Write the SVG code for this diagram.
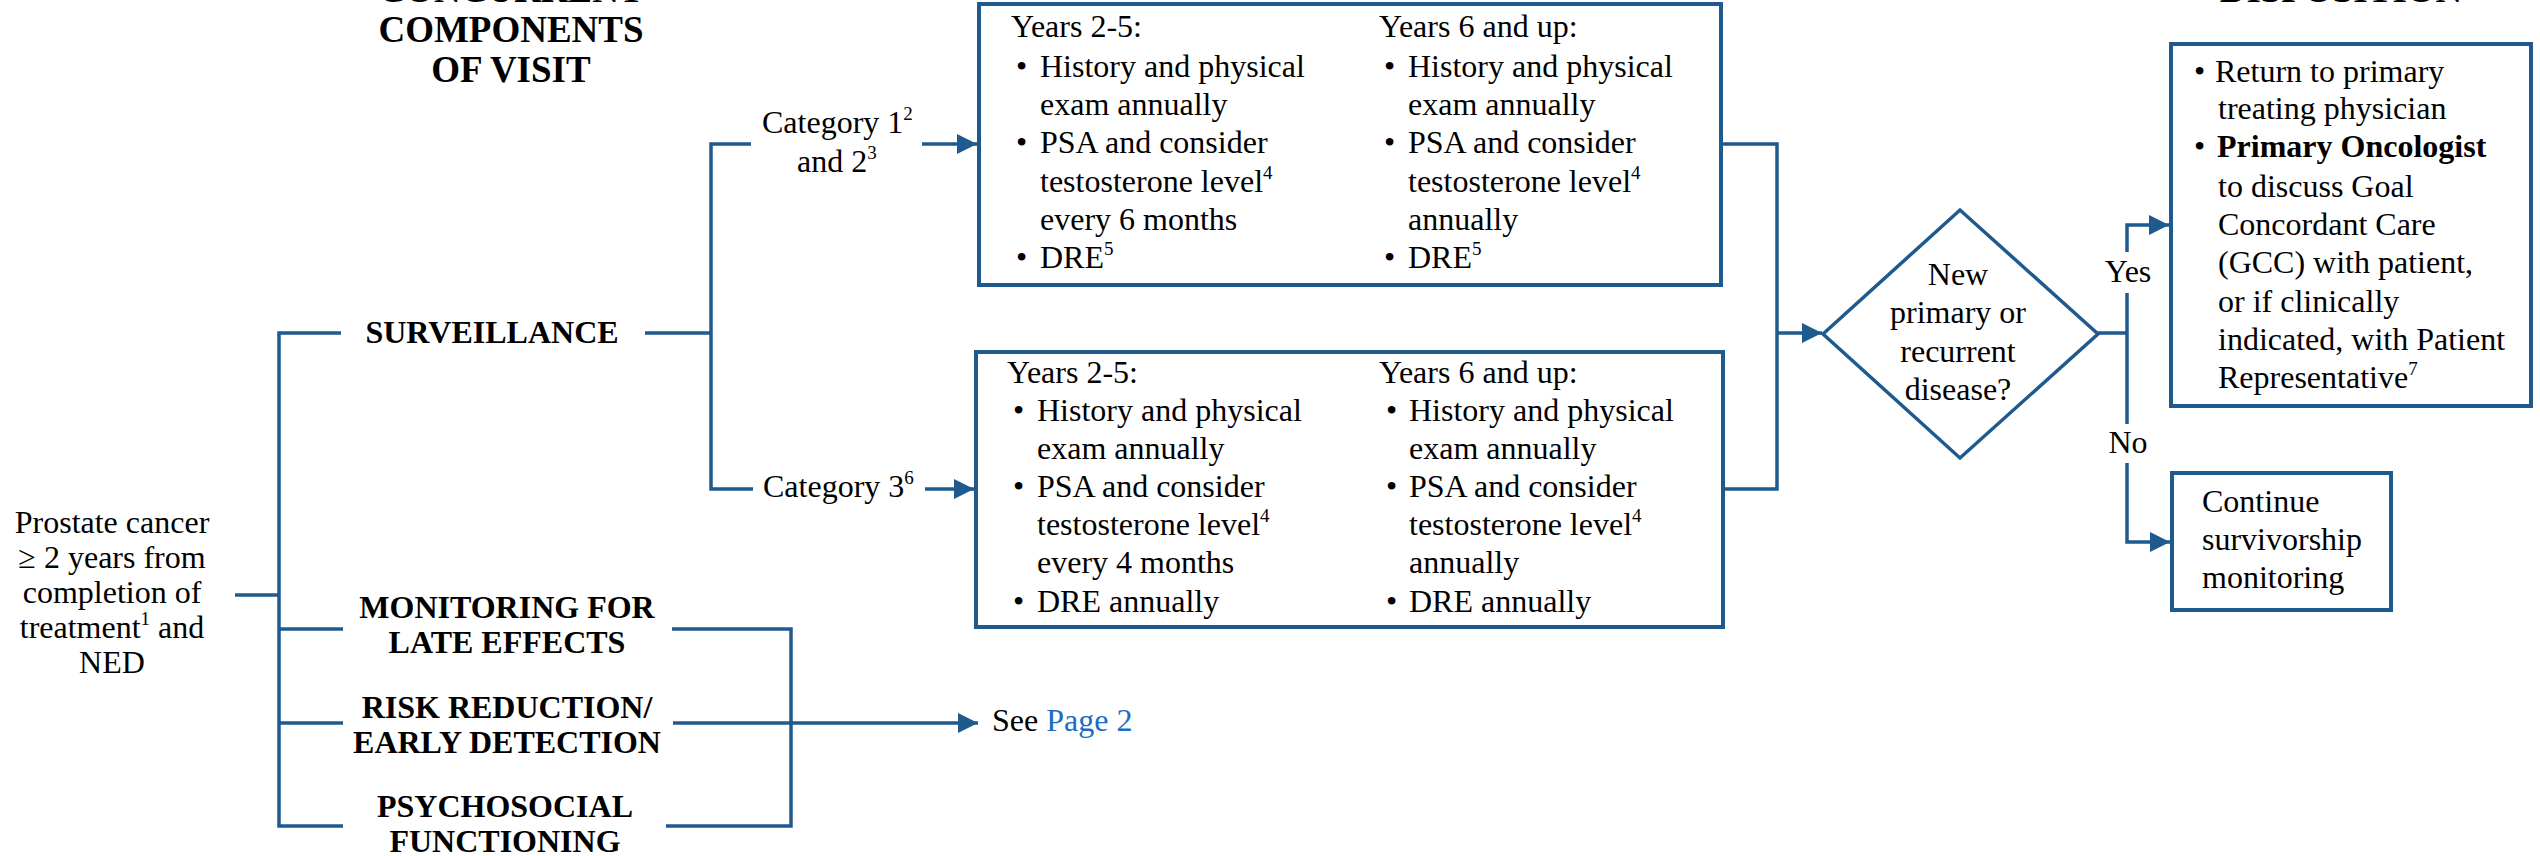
<svg xmlns="http://www.w3.org/2000/svg" width="2540" height="856" viewBox="0 0 2540 856">
<defs>
<style>
text{font-family:"Liberation Serif","Times New Roman",serif;font-size:32px;fill:#000}
.h{font-weight:bold}
.c{text-anchor:middle}
.hd{font-weight:bold;font-size:37px;text-anchor:middle}
.sup{font-size:19px}
.box{fill:#fff;stroke:#1f5a8e;stroke-width:4}
.ln{fill:none;stroke:#1f5a8e;stroke-width:3.5}
.link{fill:#1a6dc2}
</style>
<marker id="ah" viewBox="0 0 10 10" refX="10" refY="5" markerWidth="20" markerHeight="20" markerUnits="userSpaceOnUse" orient="auto">
<path d="M0,0 L10,5 L0,10 z" fill="#1f5a8e"/>
</marker>
</defs>
<rect width="2540" height="856" fill="#fff"/>

<g id="headers">
<text class="hd" x="511" y="2">CONCURRENT</text>
<text class="hd" x="511" y="42">COMPONENTS</text>
<text class="hd" x="511" y="82">OF VISIT</text>
<text class="hd" x="2341" y="2">DISPOSITION</text>
</g>

<g id="connectors">
<path class="ln" d="M235,595 H279"/>
<path class="ln" d="M341,333 H279 V826 H343"/>
<path class="ln" d="M279,629 H343"/>
<path class="ln" d="M279,723 H343"/>
<path class="ln" d="M645,333 H711"/>
<path class="ln" d="M751,144 H711 V489 H753"/>
<path class="ln" d="M922,144 H977" marker-end="url(#ah)"/>
<path class="ln" d="M925,489 H974" marker-end="url(#ah)"/>
<path class="ln" d="M672,629 H791 V826 H666"/>
<path class="ln" d="M673,723 H978" marker-end="url(#ah)"/>
<path class="ln" d="M1721,144 H1777 V489 H1723"/>
<path class="ln" d="M1777,333 H1822" marker-end="url(#ah)"/>
<path class="ln" d="M2098,333 H2127"/>
<path class="ln" d="M2127,252 V225 H2169" marker-end="url(#ah)"/>
<path class="ln" d="M2127,293 V424"/>
<path class="ln" d="M2127,463 V542 H2170" marker-end="url(#ah)"/>
</g>

<g id="start">
<text class="c" x="112" y="533">Prostate cancer</text>
<text class="c" x="112" y="568">≥ 2 years from</text>
<text class="c" x="112" y="603">completion of</text>
<text class="c" x="112" y="638">treatment<tspan class="sup" dy="-13">1</tspan><tspan dy="13"> and</tspan></text>
<text class="c" x="112" y="673">NED</text>
</g>

<g id="surveillance">
<text class="h c" x="492" y="343">SURVEILLANCE</text>
</g>

<g id="late-effects">
<text class="h c" x="507" y="618">MONITORING FOR</text>
<text class="h c" x="507" y="653">LATE EFFECTS</text>
</g>

<g id="risk-reduction">
<text class="h c" x="507" y="718">RISK REDUCTION/</text>
<text class="h c" x="507" y="753">EARLY DETECTION</text>
</g>

<g id="psychosocial">
<text class="h c" x="505" y="817">PSYCHOSOCIAL</text>
<text class="h c" x="505" y="852">FUNCTIONING</text>
</g>

<g id="see-page2">
<text x="992" y="731">See <tspan class="link">Page 2</tspan></text>
</g>

<g id="category12">
<text x="762" y="133">Category 1<tspan class="sup" dy="-13">2</tspan></text>
<text x="797" y="172">and 2<tspan class="sup" dy="-13">3</tspan></text>
</g>

<g id="category3">
<text x="763" y="497">Category 3<tspan class="sup" dy="-13">6</tspan></text>
</g>

<g id="box-cat12">
<rect class="box" x="979" y="4" width="742" height="281"/>
<text x="1011" y="37">Years 2-5:</text>
<text x="1016" y="77">•</text><text x="1040" y="77">History and physical</text>
<text x="1040" y="115">exam annually</text>
<text x="1016" y="153">•</text><text x="1040" y="153">PSA and consider</text>
<text x="1040" y="192">testosterone level<tspan class="sup" dy="-13">4</tspan></text>
<text x="1040" y="230">every 6 months</text>
<text x="1016" y="268">•</text><text x="1040" y="268">DRE<tspan class="sup" dy="-13">5</tspan></text>
<text x="1379" y="37">Years 6 and up:</text>
<text x="1384" y="77">•</text><text x="1408" y="77">History and physical</text>
<text x="1408" y="115">exam annually</text>
<text x="1384" y="153">•</text><text x="1408" y="153">PSA and consider</text>
<text x="1408" y="192">testosterone level<tspan class="sup" dy="-13">4</tspan></text>
<text x="1408" y="230">annually</text>
<text x="1384" y="268">•</text><text x="1408" y="268">DRE<tspan class="sup" dy="-13">5</tspan></text>
</g>

<g id="box-cat3">
<rect class="box" x="976" y="352" width="747" height="275"/>
<text x="1007" y="383">Years 2-5:</text>
<text x="1013" y="421">•</text><text x="1037" y="421">History and physical</text>
<text x="1037" y="459">exam annually</text>
<text x="1013" y="497">•</text><text x="1037" y="497">PSA and consider</text>
<text x="1037" y="535">testosterone level<tspan class="sup" dy="-13">4</tspan></text>
<text x="1037" y="573">every 4 months</text>
<text x="1013" y="612">•</text><text x="1037" y="612">DRE annually</text>
<text x="1379" y="383">Years 6 and up:</text>
<text x="1386" y="421">•</text><text x="1409" y="421">History and physical</text>
<text x="1409" y="459">exam annually</text>
<text x="1386" y="497">•</text><text x="1409" y="497">PSA and consider</text>
<text x="1409" y="535">testosterone level<tspan class="sup" dy="-13">4</tspan></text>
<text x="1409" y="573">annually</text>
<text x="1386" y="612">•</text><text x="1409" y="612">DRE annually</text>
</g>

<g id="decision">
<polygon points="1823,334 1960,210 2098,334 1960,458" fill="#fff" stroke="#1f5a8e" stroke-width="3.5"/>
<text class="c" x="1958" y="285">New</text>
<text class="c" x="1958" y="323">primary or</text>
<text class="c" x="1958" y="362">recurrent</text>
<text class="c" x="1958" y="400">disease?</text>
</g>

<g id="label-yes">
<text class="c" x="2128" y="282">Yes</text>
</g>
<g id="label-no">
<text class="c" x="2128" y="453">No</text>
</g>

<g id="box-yes">
<rect class="box" x="2171" y="44" width="360" height="362"/>
<text x="2194" y="82">•</text><text x="2215" y="82">Return to primary</text>
<text x="2218" y="119">treating physician</text>
<text x="2194" y="157">•</text><text class="h" x="2217" y="157">Primary Oncologist</text>
<text x="2218" y="197">to discuss Goal</text>
<text x="2218" y="235">Concordant Care</text>
<text x="2218" y="273">(GCC) with patient,</text>
<text x="2218" y="312">or if clinically</text>
<text x="2218" y="350">indicated, with Patient</text>
<text x="2218" y="388">Representative<tspan class="sup" dy="-13">7</tspan></text>
</g>

<g id="box-no">
<rect class="box" x="2172" y="473" width="219" height="137"/>
<text x="2202" y="512">Continue</text>
<text x="2202" y="550">survivorship</text>
<text x="2202" y="588">monitoring</text>
</g>
</svg>
